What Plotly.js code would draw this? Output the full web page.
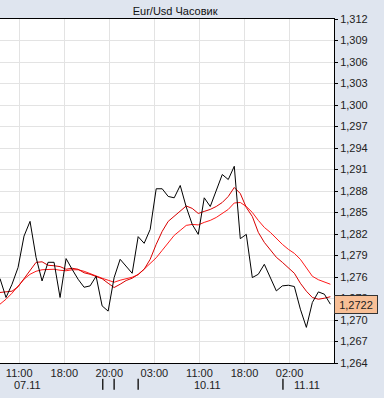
<!DOCTYPE html>
<html>
<head>
<meta charset="utf-8">
<script src="https://cdn.plot.ly/plotly-3.0.1.min.js"></script>
<style>html,body{margin:0;padding:0;background:#dfe5ef;}#chart{width:384px;height:398px;}</style>
</head>
<body>
<div id="chart"></div>
<script>
// Hourly EUR/USD close (bar index 0..55)
const closePrices = [
  1.27578, 1.27314, 1.27499, 1.27731, 1.28171, 1.28376, 1.27875, 1.27545, 1.27805, 1.27805,
  1.27314, 1.27857, 1.27708, 1.27569, 1.27457, 1.27476, 1.27610, 1.27197, 1.27124, 1.27592,
  1.27847, 1.27754, 1.27652, 1.28163, 1.28070, 1.28264, 1.28831, 1.28831, 1.28724, 1.28705,
  1.28877, 1.28577, 1.28334, 1.28195, 1.28705, 1.28584, 1.28821, 1.29030, 1.28960, 1.29145,
  1.28135, 1.28195, 1.27592, 1.27638, 1.27777, 1.27592, 1.27406, 1.27476, 1.27485, 1.27467,
  1.27151, 1.26897, 1.27245, 1.27392, 1.27360, 1.2722
];
// Faster moving average
const maFast = [
  1.27384, 1.27395, 1.27402, 1.27463, 1.27576, 1.27690, 1.27804, 1.27812, 1.27764, 1.27757,
  1.27745, 1.27708, 1.27722, 1.27708, 1.27659, 1.27638, 1.27610, 1.27576, 1.27513, 1.27453,
  1.27499, 1.27551, 1.27583, 1.27638, 1.27708, 1.27847, 1.28056, 1.28237, 1.28376, 1.28452,
  1.28529, 1.28591, 1.28557, 1.28487, 1.28515, 1.28543, 1.28584, 1.28640, 1.28724, 1.28849,
  1.28765, 1.28570, 1.28445, 1.28223, 1.28083, 1.27986, 1.27875, 1.27805, 1.27729, 1.27652,
  1.27513, 1.27402, 1.27314, 1.27290, 1.27304, 1.27325
];
// Slower moving average
const maSlow = [
  1.27221, 1.27290, 1.27374, 1.27464, 1.27569, 1.27638, 1.27680, 1.27701, 1.27708, 1.27708,
  1.27694, 1.27687, 1.27701, 1.27701, 1.27680, 1.27645, 1.27615, 1.27583, 1.27555, 1.27527,
  1.27555, 1.27576, 1.27597, 1.27631, 1.27708, 1.27791, 1.27868, 1.27972, 1.28083, 1.28181,
  1.28250, 1.28320, 1.28334, 1.28327, 1.28362, 1.28390, 1.28431, 1.28487, 1.28543, 1.28633,
  1.28640, 1.28584, 1.28501, 1.28390, 1.28292, 1.28223, 1.28139, 1.28056, 1.27986, 1.27930,
  1.27847, 1.27736, 1.27610, 1.27562, 1.27534, 1.27499
];
const timeLabels = ["11:00", "18:00", "20:00", "03:00", "11:00", "18:00", "02:00"];
const timeLabelBars = [3.2, 10.7, 18.2, 25.7, 33.2, 40.7, 48.2];
const dateLabels = ["07.11", "10.11", "11.11"];
const dateLabelBars = [4.6, 34.6, 51.1];
const dayBreakBars = [17.1, 19.0, 23.0, 47.1];

const idx = closePrices.map((_, i) => i);
const font = "Liberation Sans, Arial, sans-serif";

const traces = [
  {x: idx, y: maSlow, mode: "lines", line: {color: "#ff1a1a", width: 1}, hoverinfo: "skip"},
  {x: idx, y: maFast, mode: "lines", line: {color: "#d80000", width: 1}, hoverinfo: "skip"},
  {x: idx, y: closePrices, mode: "lines", line: {color: "#000000", width: 1}, hoverinfo: "skip"}
];

const last = closePrices[closePrices.length - 1];
const annotations = [{
  xref: "paper", x: 1, xanchor: "left", yref: "y", y: last, yanchor: "middle",
  text: last.toFixed(4).replace(".", ","), showarrow: false,
  bgcolor: "#f8bf96", bordercolor: "#333333", borderwidth: 1, borderpad: 1,
  width: 40, height: 15, font: {family: font, size: 11, color: "#222"}
}];
dateLabels.forEach((d, i) => annotations.push({
  xref: "x", x: dateLabelBars[i], yref: "paper", y: -0.064, yanchor: "middle",
  text: d, showarrow: false, font: {family: font, size: 11, color: "#222"}
}));
const shapes = dayBreakBars.map(b => ({
  type: "line", xref: "x", x0: b, x1: b, yref: "paper", y0: -0.046, y1: -0.078,
  line: {color: "#222", width: 1.5}
}));

const layout = {
  width: 384, height: 398,
  margin: {l: 0, r: 50, t: 19, b: 35},
  paper_bgcolor: "#dfe5ef", plot_bgcolor: "#ffffff",
  showlegend: false,
  separators: ",.",
  title: {text: "Eur/Usd Часовик", font: {family: font, size: 11, color: "#111"},
          xref: "container", x: 0.456, xanchor: "center", yref: "container", y: 0.972, yanchor: "middle"},
  xaxis: {
    range: [0, 55.6], tickvals: timeLabelBars, ticktext: timeLabels,
    showgrid: true, gridcolor: "#e3e3e3", gridwidth: 1, zeroline: false,
    showline: true, linecolor: "#000", linewidth: 1, mirror: true, ticks: "",
    tickfont: {family: font, size: 11, color: "#222"}
  },
  yaxis: {
    range: [1.264, 1.312], side: "right", dtick: 0.003, tick0: 1.264, tickformat: ".3f",
    showgrid: true, gridcolor: "#e3e3e3", gridwidth: 1, zeroline: false,
    showline: true, linecolor: "#000", linewidth: 1, ticks: "outside", ticklen: 3, tickcolor: "#000",
    tickfont: {family: font, size: 11, color: "#222"}
  },
  annotations: annotations,
  shapes: shapes
};
Plotly.newPlot("chart", traces, layout, {staticPlot: true, displayModeBar: false});
</script>
</body>
</html>
